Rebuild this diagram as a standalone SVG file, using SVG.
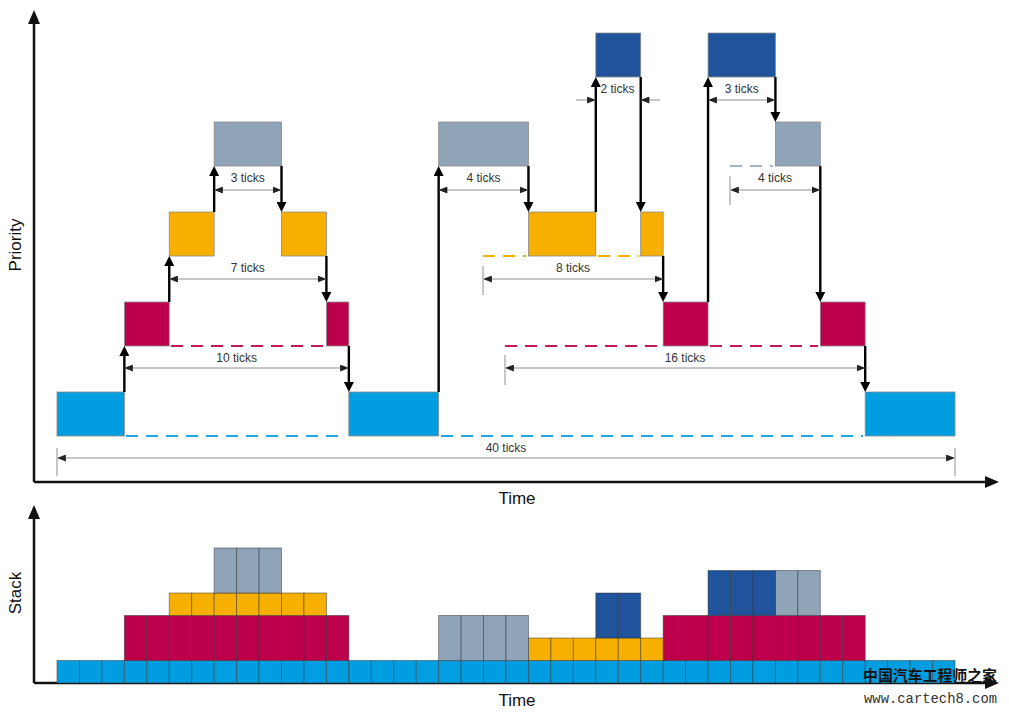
<svg xmlns="http://www.w3.org/2000/svg" width="1009" height="713" viewBox="0 0 1009 713">
<style>
.bl{fill:#009ee0}.cr{fill:#be004c}.or{fill:#f7b000}.gr{fill:#8fa4b9}.db{fill:#1f549c}
.blk{stroke:#8a8a8a;stroke-width:0.8}
.cell{stroke:#333;stroke-opacity:0.55;stroke-width:0.9}
.ax{stroke:#111;stroke-width:2.5;fill:none}
.arr{stroke:#000;stroke-width:2.4;fill:none;marker-end:url(#ah)}
.dim{stroke:#b4b4b4;stroke-width:1.5;fill:none}
.dim2{stroke:#b4b4b4;stroke-width:1.5;fill:none;marker-start:url(#dh);marker-end:url(#dh)}
.dim1{stroke:#b4b4b4;stroke-width:1.5;fill:none;marker-end:url(#dh)}
.dsh{stroke-width:2;fill:none;stroke-dasharray:12 8}
.lbl{font-family:"Liberation Sans",Arial,sans-serif;font-size:12px;fill:#333;text-anchor:middle}
.axl{font-family:"Liberation Sans",Arial,sans-serif;font-size:17px;fill:#111;text-anchor:middle}
</style>
<defs>
<marker id="ah" viewBox="0 0 10 10" refX="6" refY="5" markerWidth="10" markerHeight="10" markerUnits="userSpaceOnUse" orient="auto"><path d="M0,0 L10,5 L0,10 z" fill="#000"/></marker>
<marker id="axh" viewBox="0 0 14 12" refX="10" refY="6" markerWidth="14" markerHeight="12" markerUnits="userSpaceOnUse" orient="auto"><path d="M0,0 L14,6 L0,12 z" fill="#111"/></marker>
<marker id="dh" viewBox="0 0 10 8" refX="9" refY="4" markerWidth="9" markerHeight="7" markerUnits="userSpaceOnUse" orient="auto-start-reverse"><path d="M0,0 L10,4 L0,8 z" fill="#222"/></marker>
</defs>
<rect width="1009" height="713" fill="#fff"/>

<g id="axes">
<path class="ax" d="M34,482 V14" marker-end="url(#axh)"/>
<path class="ax" d="M34,482 H995" marker-end="url(#axh)"/>
<path class="ax" d="M34,683 V509" marker-end="url(#axh)"/>
<path class="ax" d="M34,683 H995" marker-end="url(#axh)"/>
<text class="axl" transform="translate(21,245) rotate(-90)">Priority</text>
<text class="axl" x="517" y="504">Time</text>
<text class="axl" transform="translate(21,593) rotate(-90)">Stack</text>
<text class="axl" x="517" y="706">Time</text>
</g>

<g id="dashes">
<path class="dsh" stroke="#1ea8e2" d="M126,436 H346 M441,436 H863"/>
<path class="dsh" stroke="#c41858" d="M171,346 H324 M505,346 H661 M710,346 H818"/>
<path class="dsh" stroke="#f5b000" d="M483,256 H526 M598,256 H639"/>
<path class="dsh" stroke="#a3b4c6" d="M730,166 H773"/>
</g>

<g id="blocks">
<rect id="t1-blue-a" class="bl blk" x="57" y="392" width="67.35" height="44"/>
<rect id="t2-crimson-a" class="cr blk" x="124.35" y="302" width="44.9" height="44"/>
<rect id="t3-orange-a" class="or blk" x="169.25" y="212" width="44.9" height="44"/>
<rect id="t4-gray-a" class="gr blk" x="214.15" y="122" width="67.35" height="44"/>
<rect id="t3-orange-b" class="or blk" x="281.5" y="212" width="44.9" height="44"/>
<rect id="t2-crimson-b" class="cr blk" x="326.4" y="302" width="22.45" height="44"/>
<rect id="t1-blue-b" class="bl blk" x="348.85" y="392" width="89.8" height="44"/>
<rect id="t4-gray-b" class="gr blk" x="438.65" y="122" width="89.8" height="44"/>
<rect id="t3-orange-c" class="or blk" x="528.45" y="212" width="67.35" height="44"/>
<rect id="t5-dark-a" class="db blk" x="595.8" y="33" width="44.9" height="44"/>
<rect id="t3-orange-d" class="or blk" x="640.7" y="212" width="22.45" height="44"/>
<rect id="t2-crimson-c" class="cr blk" x="663.15" y="302" width="44.9" height="44"/>
<rect id="t5-dark-b" class="db blk" x="708.05" y="33" width="67.35" height="44"/>
<rect id="t4-gray-c" class="gr blk" x="775.4" y="122" width="44.9" height="44"/>
<rect id="t2-crimson-d" class="cr blk" x="820.3" y="302" width="44.9" height="44"/>
<rect id="t1-blue-c" class="bl blk" x="865.2" y="392" width="89.8" height="44"/>
</g>

<g id="connectors">
<path class="arr" d="M124.35,392 V350"/>
<path class="arr" d="M169.25,302 V260"/>
<path class="arr" d="M214.15,212 V170"/>
<path class="arr" d="M281.5,166 V208"/>
<path class="arr" d="M326.4,256 V298"/>
<path class="arr" d="M348.85,346 V388"/>
<path class="arr" d="M438.65,392 V170"/>
<path class="arr" d="M528.45,166 V208"/>
<path class="arr" d="M595.8,212 V81"/>
<path class="arr" d="M640.7,77 V208"/>
<path class="arr" d="M663.15,256 V298"/>
<path class="arr" d="M708.05,302 V81"/>
<path class="arr" d="M775.4,77 V118"/>
<path class="arr" d="M820.3,166 V298"/>
<path class="arr" d="M865.2,346 V388"/>
</g>

<g id="dimensions">
<path class="dim2" d="M215,190 H280.5"/>
<text class="lbl" x="247.8" y="182">3 ticks</text>
<path class="dim2" d="M170,279 H325.5"/>
<text class="lbl" x="247.8" y="272">7 ticks</text>
<path class="dim2" d="M125,368 H348"/>
<text class="lbl" x="236.6" y="362">10 ticks</text>
<path class="dim2" d="M58,458 H954"/>
<path class="dim" d="M57,448 V476 M955,448 V476"/>
<text class="lbl" x="506" y="452">40 ticks</text>
<path class="dim2" d="M439.5,190 H527.5"/>
<text class="lbl" x="483.5" y="182">4 ticks</text>
<path class="dim1" d="M576,100 H595"/>
<path class="dim1" d="M660,100 H641.5"/>
<text class="lbl" x="617.5" y="93">2 ticks</text>
<path class="dim2" d="M484,279 H662.5"/>
<path class="dim" d="M483,266 V295"/>
<text class="lbl" x="573" y="272">8 ticks</text>
<path class="dim2" d="M506,368 H864.5"/>
<path class="dim" d="M505,355 V385"/>
<text class="lbl" x="685" y="362">16 ticks</text>
<path class="dim2" d="M709,100 H774.5"/>
<text class="lbl" x="741.7" y="93">3 ticks</text>
<path class="dim2" d="M731,190 H819.5"/>
<path class="dim" d="M730,176 V205"/>
<text class="lbl" x="775" y="182">4 ticks</text>
</g>

<g id="stack">
<g class="bl cell">
<rect x="57" y="660.5" width="22.45" height="22.5"/><rect x="79.45" y="660.5" width="22.45" height="22.5"/><rect x="101.9" y="660.5" width="22.45" height="22.5"/><rect x="124.35" y="660.5" width="22.45" height="22.5"/><rect x="146.8" y="660.5" width="22.45" height="22.5"/><rect x="169.25" y="660.5" width="22.45" height="22.5"/><rect x="191.7" y="660.5" width="22.45" height="22.5"/><rect x="214.15" y="660.5" width="22.45" height="22.5"/><rect x="236.6" y="660.5" width="22.45" height="22.5"/><rect x="259.05" y="660.5" width="22.45" height="22.5"/>
<rect x="281.5" y="660.5" width="22.45" height="22.5"/><rect x="303.95" y="660.5" width="22.45" height="22.5"/><rect x="326.4" y="660.5" width="22.45" height="22.5"/><rect x="348.85" y="660.5" width="22.45" height="22.5"/><rect x="371.3" y="660.5" width="22.45" height="22.5"/><rect x="393.75" y="660.5" width="22.45" height="22.5"/><rect x="416.2" y="660.5" width="22.45" height="22.5"/><rect x="438.65" y="660.5" width="22.45" height="22.5"/><rect x="461.1" y="660.5" width="22.45" height="22.5"/><rect x="483.55" y="660.5" width="22.45" height="22.5"/>
<rect x="506" y="660.5" width="22.45" height="22.5"/><rect x="528.45" y="660.5" width="22.45" height="22.5"/><rect x="550.9" y="660.5" width="22.45" height="22.5"/><rect x="573.35" y="660.5" width="22.45" height="22.5"/><rect x="595.8" y="660.5" width="22.45" height="22.5"/><rect x="618.25" y="660.5" width="22.45" height="22.5"/><rect x="640.7" y="660.5" width="22.45" height="22.5"/><rect x="663.15" y="660.5" width="22.45" height="22.5"/><rect x="685.6" y="660.5" width="22.45" height="22.5"/><rect x="708.05" y="660.5" width="22.45" height="22.5"/>
<rect x="730.5" y="660.5" width="22.45" height="22.5"/><rect x="752.95" y="660.5" width="22.45" height="22.5"/><rect x="775.4" y="660.5" width="22.45" height="22.5"/><rect x="797.85" y="660.5" width="22.45" height="22.5"/><rect x="820.3" y="660.5" width="22.45" height="22.5"/><rect x="842.75" y="660.5" width="22.45" height="22.5"/><rect x="865.2" y="660.5" width="22.45" height="22.5"/><rect x="887.65" y="660.5" width="22.45" height="22.5"/><rect x="910.1" y="660.5" width="22.45" height="22.5"/><rect x="932.55" y="660.5" width="22.45" height="22.5"/>
</g>
<g class="cr cell">
<rect x="124.35" y="615.5" width="22.45" height="45"/><rect x="146.8" y="615.5" width="22.45" height="45"/><rect x="169.25" y="615.5" width="22.45" height="45"/><rect x="191.7" y="615.5" width="22.45" height="45"/><rect x="214.15" y="615.5" width="22.45" height="45"/><rect x="236.6" y="615.5" width="22.45" height="45"/><rect x="259.05" y="615.5" width="22.45" height="45"/><rect x="281.5" y="615.5" width="22.45" height="45"/><rect x="303.95" y="615.5" width="22.45" height="45"/><rect x="326.4" y="615.5" width="22.45" height="45"/>
<rect x="663.15" y="615.5" width="22.45" height="45"/><rect x="685.6" y="615.5" width="22.45" height="45"/><rect x="708.05" y="615.5" width="22.45" height="45"/><rect x="730.5" y="615.5" width="22.45" height="45"/><rect x="752.95" y="615.5" width="22.45" height="45"/><rect x="775.4" y="615.5" width="22.45" height="45"/><rect x="797.85" y="615.5" width="22.45" height="45"/><rect x="820.3" y="615.5" width="22.45" height="45"/><rect x="842.75" y="615.5" width="22.45" height="45"/>
</g>
<g class="or cell">
<rect x="169.25" y="593" width="22.45" height="22.5"/><rect x="191.7" y="593" width="22.45" height="22.5"/><rect x="214.15" y="593" width="22.45" height="22.5"/><rect x="236.6" y="593" width="22.45" height="22.5"/><rect x="259.05" y="593" width="22.45" height="22.5"/><rect x="281.5" y="593" width="22.45" height="22.5"/><rect x="303.95" y="593" width="22.45" height="22.5"/>
<rect x="528.45" y="638" width="22.45" height="22.5"/><rect x="550.9" y="638" width="22.45" height="22.5"/><rect x="573.35" y="638" width="22.45" height="22.5"/><rect x="595.8" y="638" width="22.45" height="22.5"/><rect x="618.25" y="638" width="22.45" height="22.5"/><rect x="640.7" y="638" width="22.45" height="22.5"/>
</g>
<g class="gr cell">
<rect x="214.15" y="548" width="22.45" height="45"/><rect x="236.6" y="548" width="22.45" height="45"/><rect x="259.05" y="548" width="22.45" height="45"/>
<rect x="438.65" y="615.5" width="22.45" height="45"/><rect x="461.1" y="615.5" width="22.45" height="45"/><rect x="483.55" y="615.5" width="22.45" height="45"/><rect x="506" y="615.5" width="22.45" height="45"/>
<rect x="775.4" y="570.5" width="22.45" height="45"/><rect x="797.85" y="570.5" width="22.45" height="45"/>
</g>
<g class="db cell">
<rect x="595.8" y="593" width="22.45" height="45"/><rect x="618.25" y="593" width="22.45" height="45"/>
<rect x="708.05" y="570.5" width="22.45" height="45"/><rect x="730.5" y="570.5" width="22.45" height="45"/><rect x="752.95" y="570.5" width="22.45" height="45"/>
</g>
</g>

<g id="watermark">
<text x="863" y="681" font-family="'Noto Sans CJK SC',sans-serif" font-size="15" font-weight="bold" fill="#111" textLength="134" lengthAdjust="spacingAndGlyphs">中国汽车工程师之家</text>
<text x="864" y="703" font-family="'Liberation Mono',monospace" font-size="14" fill="#333" textLength="133" lengthAdjust="spacingAndGlyphs">www.cartech8.com</text>
</g>
</svg>
